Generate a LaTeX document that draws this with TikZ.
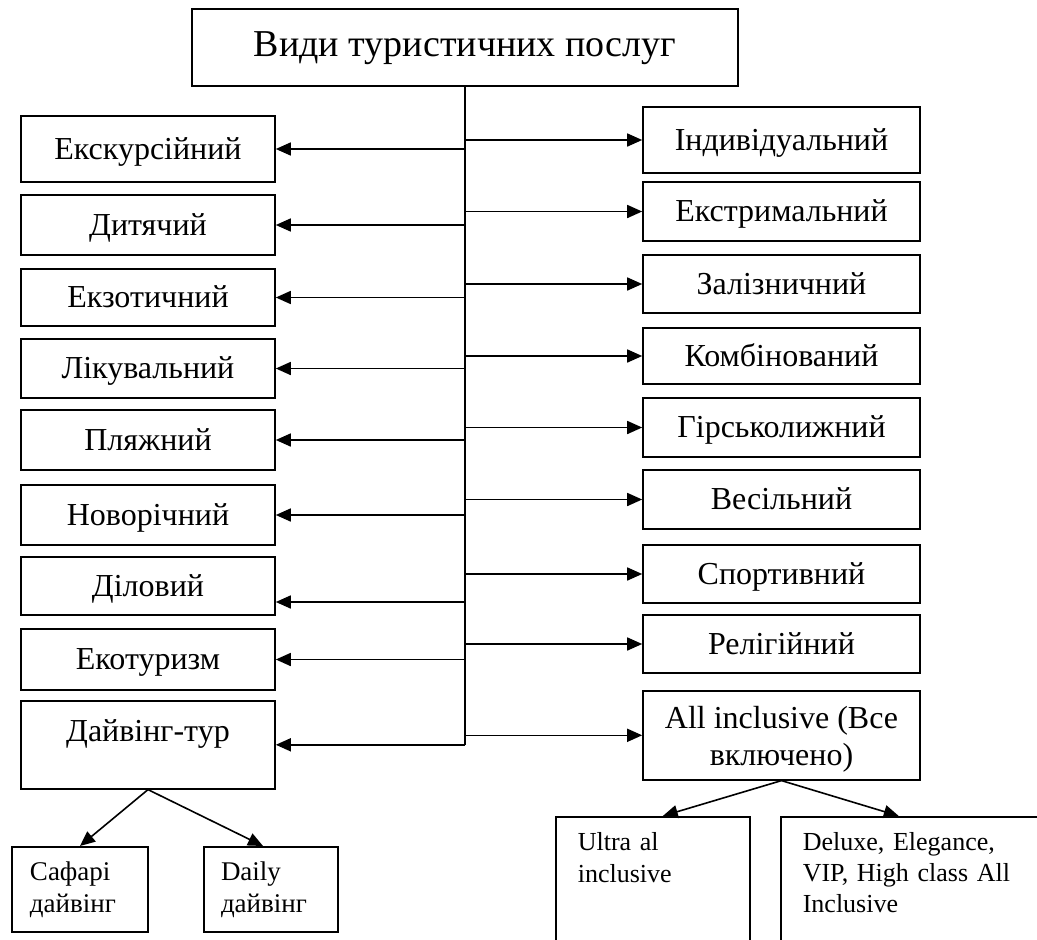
\documentclass[tikz,border=0pt]{standalone}
\usepackage{fontspec}
\setmainfont{Liberation Serif}
\usepackage{tikz}
\usetikzlibrary{arrows.meta, positioning}
\tikzstyle{block} = [rectangle, draw, line width=1.6pt, inner sep=0pt, text height=26pt, text depth=6pt, align=center, font=\fontsize{32}{38}\selectfont]
\tikzstyle{leftblock} = [block, minimum width=254pt]
\tikzstyle{rightblock} = [block, minimum width=277pt]
\tikzstyle{subblock} = [rectangle, draw, line width=1.6pt, inner ysep=0pt, align=left, text height=34pt, font=\fontsize{26}{32}\selectfont]
\tikzstyle{line} = [draw, -{Triangle[length=15pt, width=13pt]}, line width=1.6pt]

\begin{document}
\begin{tikzpicture}[x=1pt, y=-1pt]
    \clip (0,0) rectangle (1037,940);
    % Nodes
    \node (vydy) [block, minimum width=546pt, minimum height=77pt, text height=27pt, text depth=9pt, font=\fontsize{38}{44}\selectfont] at (465,47.5) {Види туристичних послуг};

    \node (ekskurs) [leftblock, minimum height=66pt] at (148,149) {Екскурсійний};
    \node (dytiach) [leftblock, minimum height=60pt] at (148,225) {Дитячий};
    \node (ekzot) [leftblock, minimum height=57pt] at (148,297.5) {Екзотичний};
    \node (likuv) [leftblock, minimum height=59pt] at (148,368.5) {Лікувальний};
    \node (pliazh) [leftblock, minimum height=60pt] at (148,440) {Пляжний};
    \node (novorich) [leftblock, minimum height=60pt] at (148,515) {Новорічний};
    \node (dilov) [leftblock, minimum height=58pt] at (148,586) {Діловий};
    \node (ekotur) [leftblock, minimum height=61pt] at (148,659.5) {Екотуризм};
    \node (daiving) [leftblock, anchor=north, text height=41pt, text depth=47pt] at (148,700) {Дайвінг-тур};

    \node (individ) [rightblock, minimum height=66pt] at (781.5,140) {Індивідуальний};
    \node (ekstrym) [rightblock, minimum height=59pt] at (781.5,211.5) {Екстримальний};
    \node (zalizn) [rightblock, minimum height=58pt] at (781.5,284) {Залізничний};
    \node (kombin) [rightblock, minimum height=56pt] at (781.5,356) {Комбінований};
    \node (hirsk) [rightblock, minimum height=59pt] at (781.5,427.5) {Гірськолижний};
    \node (vesil) [rightblock, minimum height=59pt] at (781.5,499.5) {Весільний};
    \node (sport) [rightblock, minimum height=58pt] at (781.5,574) {Спортивний};
    \node (relig) [rightblock, minimum height=58pt] at (781.5,644) {Релігійний};
    \node (allincl) [rightblock, anchor=north, text height=75pt, text depth=14pt, font=\fontsize{32}{37}\selectfont] at (781.5,690) {All inclusive (Все\\включено)};

    \node (safari) [subblock, anchor=north, text width=100pt, inner xsep=18pt, text depth=51pt, font=\fontsize{27}{32}\selectfont] at (80,846) {Сафарі\\дайвінг};
    \node (daily) [subblock, anchor=north, text width=100pt, inner xsep=17pt, text depth=51pt, font=\fontsize{27}{32}\selectfont] at (271,846) {Daily\\дайвінг};
    \node (ultra) [subblock, anchor=north west, text width=150pt, inner xsep=22pt, text depth=166pt] at (555,816) {Ultra al\\inclusive};
    \node (deluxe) [subblock, anchor=north west, text width=240pt, inner xsep=22pt, text depth=166pt, font=\fontsize{26}{31}\selectfont] at (780,816) {Deluxe, Elegance,\\VIP, High class All\\Inclusive};

    \coordinate (dilovin) at ([yshift=-16pt]dilov.east);

    % Paths
    \draw [line width=1.6pt] (vydy.south) -- (vydy.south |- daiving.east);
    \draw [line] (vydy.south |- ekskurs.east) -- (ekskurs.east);
    \draw [line] (vydy.south |- dytiach.east) -- (dytiach.east);
    \draw [line] (vydy.south |- ekzot.east) -- (ekzot.east);
    \draw [line] (vydy.south |- likuv.east) -- (likuv.east);
    \draw [line] (vydy.south |- pliazh.east) -- (pliazh.east);
    \draw [line] (vydy.south |- novorich.east) -- (novorich.east);
    \draw [line] (vydy.south |- dilovin) -- (dilovin);
    \draw [line] (vydy.south |- ekotur.east) -- (ekotur.east);
    \draw [line] (vydy.south |- daiving.east) -- (daiving.east);
    \draw [line] (vydy.south |- individ.west) -- (individ.west);
    \draw [line] (vydy.south |- ekstrym.west) -- (ekstrym.west);
    \draw [line] (vydy.south |- zalizn.west) -- (zalizn.west);
    \draw [line] (vydy.south |- kombin.west) -- (kombin.west);
    \draw [line] (vydy.south |- hirsk.west) -- (hirsk.west);
    \draw [line] (vydy.south |- vesil.west) -- (vesil.west);
    \draw [line] (vydy.south |- sport.west) -- (sport.west);
    \draw [line] (vydy.south |- relig.west) -- (relig.west);
    \draw [line] (vydy.south |- allincl.west) -- (allincl.west);
    \draw [line] (daiving.south) -- (safari.north);
    \draw [line] (daiving.south) -- ([xshift=-8pt]daily.north);
    \draw [line] (allincl.south) -- ([xshift=10pt]ultra.north);
    \draw [line] (allincl.south) -- ([xshift=-24pt]deluxe.north);
\end{tikzpicture}
\end{document}
